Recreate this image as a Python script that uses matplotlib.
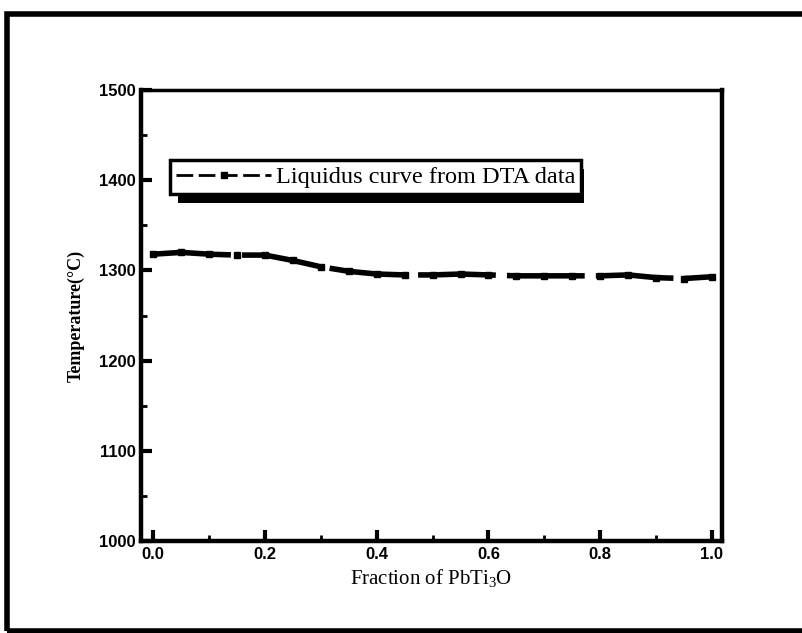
import matplotlib
matplotlib.use('Agg')
import matplotlib.pyplot as plt
from matplotlib.patches import Rectangle
from matplotlib.ticker import MultipleLocator

# liquidus data
fraction = [0.0, 0.05, 0.1, 0.15, 0.2, 0.25, 0.3, 0.35, 0.4, 0.45, 0.5,
            0.55, 0.6, 0.65, 0.7, 0.75, 0.8, 0.85, 0.9, 0.95, 1.0]
temp = [1318, 1320, 1318, 1317, 1317, 1311, 1304, 1299, 1296, 1295, 1295,
        1296, 1295, 1294, 1294, 1294, 1294, 1295, 1292, 1291, 1293]
series_label = 'Liquidus curve from DTA data'
xticks = [0.0, 0.2, 0.4, 0.6, 0.8, 1.0]
yticks = [1000, 1100, 1200, 1300, 1400, 1500]

plt.rcParams['mathtext.default'] = 'regular'

fig = plt.figure(figsize=(8.02, 6.33), dpi=100)
ax = fig.add_axes([0.1758, 0.1453, 0.7244, 0.7125])

ax.plot(fraction, temp, color='k', lw=4, dashes=(14, 2), marker='s',
        ms=4, label=series_label)

ax.set_xlim(-0.022, 1.018)
ax.set_ylim(1000, 1500)
ax.set_xticks(xticks)
ax.set_yticks(yticks)
ax.xaxis.set_minor_locator(MultipleLocator(0.1))
ax.yaxis.set_minor_locator(MultipleLocator(50))
ax.tick_params(which='major', direction='in', length=8, width=3,
               labelsize=12, pad=4)
ax.tick_params(which='minor', direction='in', length=4, width=2)
ax.set_xticklabels(['%.1f' % v for v in xticks])
for lab in ax.get_xticklabels() + ax.get_yticklabels():
    lab.set_family('Liberation Sans')
    lab.set_fontweight('bold')

for side in ['left', 'bottom', 'right']:
    ax.spines[side].set_linewidth(3.2)
ax.spines['top'].set_linewidth(2.5)

ax.set_xlabel('Fraction of PbTi$_3$O', family='Liberation Serif',
              fontsize=15, labelpad=4)
ax.set_ylabel('Temperature(°C)', family='Liberation Serif',
              fontsize=13, fontweight='bold', labelpad=10)

leg = ax.legend(loc='upper left', bbox_to_anchor=(0.05, 0.845),
                borderaxespad=0, fancybox=False, handlelength=3.9,
                handletextpad=0.2, borderpad=0.25, framealpha=1,
                prop={'family': 'Liberation Serif', 'size': 17.5})
leg.get_frame().set_edgecolor('k')
leg.get_frame().set_linewidth(2.5)
leg.set_zorder(5)
for h in leg.get_lines():
    h.set_linewidth(2)
    h.set_dashes((6, 2))

# heavy drop shadow under the legend box
fig.canvas.draw()
bb = leg.get_window_extent()
inv = fig.transFigure.inverted()
(x0, y0), (x1, y1) = inv.transform([[bb.x0 + 8, bb.y0 - 9], [bb.x1 + 3, bb.y1 - 9]])
ax.add_patch(Rectangle((x0, y0), x1 - x0, y1 - y0, transform=fig.transFigure,
                       facecolor='k', edgecolor='none', zorder=4, clip_on=False))

# outer frame around the scanned page
fig.patches.append(Rectangle((0.009, 0.003), 0.995, 0.975, transform=fig.transFigure,
                             fill=False, lw=4, edgecolor='k'))

fig.savefig('out.png', dpi=100)
